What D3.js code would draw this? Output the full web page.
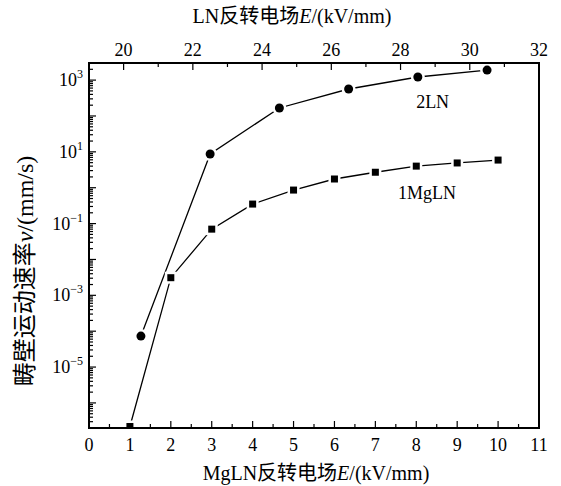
<!doctype html>
<html>
  <head>
    <meta charset="utf-8">
    <title>畴壁运动速率</title>
    <script src="https://cdn.jsdelivr.net/npm/d3@7/dist/d3.min.js"></script>
    <style>
      body { margin: 0; background: #fff; }
      svg { display: block; }
      .num { font: 18px "Liberation Serif", "DejaVu Serif", serif; fill: #000; }
      .title { font-size: 20px; fill: #000; }
      .title .lat { font-family: "Liberation Serif", serif; }
      .title .cjk { font-family: "Noto Sans CJK SC", sans-serif; }
      .title .it { font-family: "Liberation Serif", serif; font-style: italic; }
    </style>
  </head>
  <body>
    <svg id="chart" width="561" height="486"></svg>
    <script>
      // MgLN (bottom axis), squares
      var mglnE = [1, 2, 3, 4, 5, 6, 7, 8, 9, 10];
      var mglnV = [2.2e-7, 3.1e-3, 0.07, 0.35, 0.86, 1.75, 2.7, 4.0, 4.9, 5.9];

      // LN (top axis), circles
      var lnE = [20.5, 22.5, 24.5, 26.5, 28.5, 30.5];
      var lnV = [7.3e-5, 8.7, 167, 565, 1220, 1900];

      var bottomTicks = [0, 1, 2, 3, 4, 5, 6, 7, 8, 9, 10, 11];
      var topTicks = [20, 22, 24, 26, 28, 30, 32];
      var yTickExps = [3, 1, -1, -3, -5];

      var seriesLabels = [
        { text: "2LN", e: 8.4, v: 165 },
        { text: "1MgLN", e: 8.26, v: 0.48 }
      ];

      var svg = d3.select("#chart"),
          pl = 89, pr = 539, pt = 63, pb = 428;

      var xb = d3.scaleLinear().domain([0, 11]).range([pl, pr]);
      var xt = d3.scaleLinear().domain([19, 32]).range([pl, pr]);
      var y = d3.scaleLog().domain([2e-7, 3e3]).range([pb, pt]);

      svg.append("clipPath").attr("id", "plot")
        .append("rect")
          .attr("x", pl).attr("y", pt)
          .attr("width", pr - pl).attr("height", pb - pt);

      // ticks, all pointing inward
      var tk = svg.append("g").attr("stroke", "#000").attr("stroke-width", 1.2);

      d3.range(0, 11.01, 0.5).forEach(function(v) {
        var len = v % 1 === 0 ? 7 : 4;
        tk.append("line").attr("x1", xb(v)).attr("x2", xb(v))
          .attr("y1", pb).attr("y2", pb - len);
      });
      d3.range(19, 32.01, 1).forEach(function(v) {
        var len = v % 2 === 0 ? 7 : 4;
        tk.append("line").attr("x1", xt(v)).attr("x2", xt(v))
          .attr("y1", pt).attr("y2", pt + len);
      });
      d3.range(-7, 4).forEach(function(d) {
        for (var k = 1; k < 10; k++) {
          var v = k * Math.pow(10, d);
          if (v < y.domain()[0] || v > y.domain()[1]) continue;
          tk.append("line").attr("x1", pl).attr("x2", pl + (k === 1 ? 7 : 4))
            .attr("y1", y(v)).attr("y2", y(v));
        }
      });

      // tick labels
      svg.selectAll(".bl").data(bottomTicks).enter().append("text")
        .attr("class", "num").attr("text-anchor", "middle")
        .attr("x", function(d) { return xb(d); }).attr("y", 451)
        .text(function(d) { return d; });

      svg.selectAll(".tl").data(topTicks).enter().append("text")
        .attr("class", "num").attr("text-anchor", "middle")
        .attr("x", function(d) { return xt(d); }).attr("y", 56)
        .text(function(d) { return d; });

      var yl = svg.selectAll(".yl").data(yTickExps).enter().append("text")
        .attr("class", "num").attr("text-anchor", "end")
        .attr("x", 83).attr("y", function(d) { return y(Math.pow(10, d)) + 6; });
      yl.append("tspan").text("10");
      yl.append("tspan").attr("dy", -8).style("font-size", "12px")
        .text(function(d) { return d < 0 ? "\u2212" + (-d) : d; });

      // lines and markers
      var plot = svg.append("g").attr("clip-path", "url(#plot)");
      var line = d3.line();

      plot.append("path")
        .attr("d", line(mglnE.map(function(e, i) { return [xb(e), y(mglnV[i])]; })))
        .attr("fill", "none").attr("stroke", "#000").attr("stroke-width", 1.3);
      plot.append("path")
        .attr("d", line(lnE.map(function(e, i) { return [xt(e), y(lnV[i])]; })))
        .attr("fill", "none").attr("stroke", "#000").attr("stroke-width", 1.3);

      plot.selectAll(".sq").data(mglnE).enter().append("rect")
        .attr("x", function(d) { return xb(d) - 3.5; })
        .attr("y", function(d, i) { return y(mglnV[i]) - 3.5; })
        .attr("width", 7).attr("height", 7)
        .attr("fill", "#000").attr("stroke", "#fff").attr("stroke-width", 5)
        .style("paint-order", "stroke");

      plot.selectAll(".ci").data(lnE).enter().append("circle")
        .attr("cx", function(d) { return xt(d); })
        .attr("cy", function(d, i) { return y(lnV[i]); })
        .attr("r", 4.5)
        .attr("fill", "#000").attr("stroke", "#fff").attr("stroke-width", 5)
        .style("paint-order", "stroke");

      // frame
      svg.append("rect")
        .attr("x", pl).attr("y", pt)
        .attr("width", pr - pl).attr("height", pb - pt)
        .attr("fill", "none").attr("stroke", "#000").attr("stroke-width", 2);

      // series labels
      svg.selectAll(".sl").data(seriesLabels).enter().append("text")
        .attr("class", "num").attr("text-anchor", "middle")
        .attr("x", function(d) { return xb(d.e); })
        .attr("y", function(d) { return y(d.v); })
        .text(function(d) { return d.text; });

      // axis titles
      function title(g, parts) {
        parts.forEach(function(p) {
          g.append("tspan").attr("class", p[0]).text(p[1]);
        });
      }

      title(svg.append("text").attr("class", "title").attr("text-anchor", "middle")
        .attr("x", 316).attr("y", 480),
        [["lat", "MgLN"], ["cjk", "反转电场"], ["it", "E"], ["lat", "/(kV/mm)"]]);

      title(svg.append("text").attr("class", "title").attr("text-anchor", "middle")
        .attr("x", 292).attr("y", 23),
        [["lat", "LN"], ["cjk", "反转电场"], ["it", "E"], ["lat", "/(kV/mm)"]]);

      title(svg.append("text").attr("class", "title").attr("text-anchor", "middle")
        .attr("transform", "translate(33,271) rotate(-90)")
        .style("font-size", "24px"),
        [["cjk", "畴壁运动速率"], ["it", "v"], ["lat", "/(mm/s)"]]);
    </script>
  </body>
</html>
